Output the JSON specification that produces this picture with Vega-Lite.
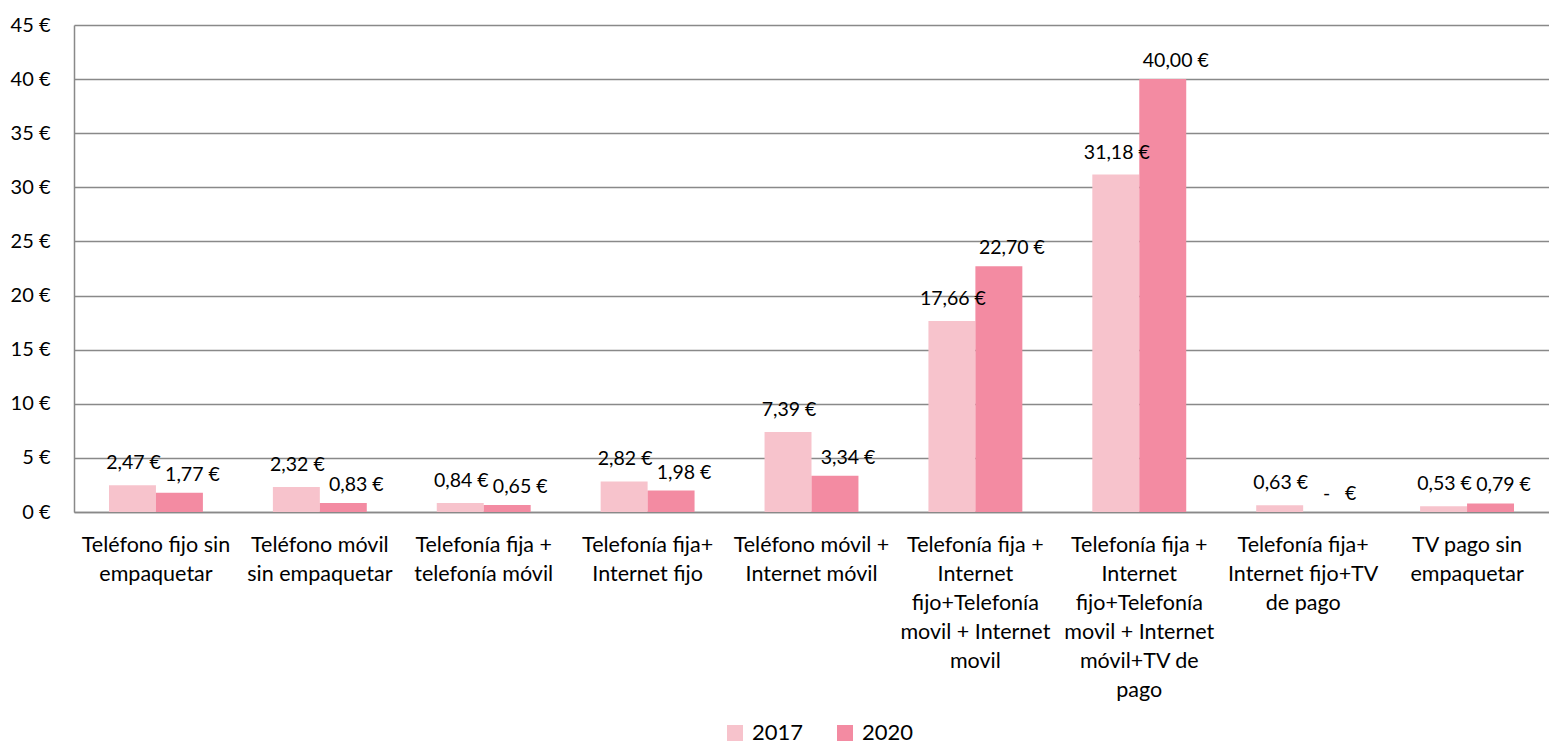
{
  "$schema": "https://vega.github.io/schema/vega-lite/v6.json",
  "width": 1475,
  "height": 487,
  "autosize": {"type": "none"},
  "padding": {"left": 74, "top": 25, "right": 0, "bottom": 233},
  "background": "white",
  "config": {
    "font": "Lato",
    "view": {"stroke": null}
  },
  "data": {
    "values": [
      {"cat": "Teléfono fijo sin|empaquetar", "year": "2017", "value": 2.47, "label": "2,47 €"},
      {"cat": "Teléfono fijo sin|empaquetar", "year": "2020", "value": 1.77, "label": "1,77 €"},
      {"cat": "Teléfono móvil|sin empaquetar", "year": "2017", "value": 2.32, "label": "2,32 €"},
      {"cat": "Teléfono móvil|sin empaquetar", "year": "2020", "value": 0.83, "label": "0,83 €"},
      {"cat": "Telefonía fija +|telefonía móvil", "year": "2017", "value": 0.84, "label": "0,84 €"},
      {"cat": "Telefonía fija +|telefonía móvil", "year": "2020", "value": 0.65, "label": "0,65 €"},
      {"cat": "Telefonía fija+|Internet fijo", "year": "2017", "value": 2.82, "label": "2,82 €"},
      {"cat": "Telefonía fija+|Internet fijo", "year": "2020", "value": 1.98, "label": "1,98 €"},
      {"cat": "Teléfono móvil +|Internet móvil", "year": "2017", "value": 7.39, "label": "7,39 €"},
      {"cat": "Teléfono móvil +|Internet móvil", "year": "2020", "value": 3.34, "label": "3,34 €"},
      {"cat": "Telefonía fija +|Internet|fijo+Telefonía|movil + Internet|movil", "year": "2017", "value": 17.66, "label": "17,66 €"},
      {"cat": "Telefonía fija +|Internet|fijo+Telefonía|movil + Internet|movil", "year": "2020", "value": 22.70, "label": "22,70 €"},
      {"cat": "Telefonía fija +|Internet|fijo+Telefonía|movil + Internet|móvil+TV de|pago", "year": "2017", "value": 31.18, "label": "31,18 €"},
      {"cat": "Telefonía fija +|Internet|fijo+Telefonía|movil + Internet|móvil+TV de|pago", "year": "2020", "value": 40.00, "label": "40,00 €"},
      {"cat": "Telefonía fija+|Internet fijo+TV|de pago", "year": "2017", "value": 0.63, "label": "0,63 €"},
      {"cat": "Telefonía fija+|Internet fijo+TV|de pago", "year": "2020", "value": 0, "label": "-\u00a0\u00a0\u00a0€"},
      {"cat": "TV pago sin|empaquetar", "year": "2017", "value": 0.53, "label": "0,53 €"},
      {"cat": "TV pago sin|empaquetar", "year": "2020", "value": 0.79, "label": "0,79 €"}
    ]
  },
  "encoding": {
    "x": {
      "field": "cat",
      "type": "nominal",
      "sort": null,
      "scale": {"paddingInner": 0.427, "paddingOuter": 0.2135},
      "axis": {
        "title": null,
        "labelAngle": 0,
        "labelExpr": "split(datum.label, '|')",
        "labelFontSize": 21.5,
        "labelLineHeight": 29,
        "labelColor": "#000000",
        "labelPadding": 22,
        "labelLimit": 300,
        "labelBaseline": "top",
        "ticks": false,
        "domainColor": "#898989",
        "domainWidth": 1.5
      }
    },
    "xOffset": {"field": "year", "type": "nominal", "scale": {"domain": ["2017", "2020"], "paddingInner": 0, "paddingOuter": 0}},
    "y": {
      "field": "value",
      "type": "quantitative",
      "scale": {"domain": [0, 45], "nice": false},
      "axis": {
        "title": null,
        "values": [0, 5, 10, 15, 20, 25, 30, 35, 40, 45],
        "labelExpr": "datum.value + ' €'",
        "labelFontSize": 20,
        "labelColor": "#000000",
        "labelPadding": 24,
        "ticks": false,
        "grid": true,
        "gridColor": "#898989",
        "gridWidth": 1.5,
        "domainColor": "#898989",
        "domainWidth": 1.5
      }
    }
  },
  "layer": [
    {
      "mark": {"type": "bar"},
      "encoding": {
        "color": {
          "field": "year",
          "type": "nominal",
          "scale": {"domain": ["2017", "2020"], "range": ["#F7C3CC", "#F38BA2"]},
          "legend": {
            "title": null,
            "orient": "none",
            "direction": "horizontal",
            "legendX": 650,
            "legendY": 697,
            "symbolType": "square",
            "symbolSize": 256,
            "symbolStrokeWidth": 0,
            "labelFontSize": 22,
            "labelColor": "#000000",
            "columnPadding": 30,
            "labelOffset": 6
          }
        }
      }
    },
    {
      "transform": [{"filter": "datum.year == '2017'"}],
      "mark": {"type": "text", "dy": -22, "dx": 1, "fontSize": 19.5, "color": "#000000", "baseline": "middle"},
      "encoding": {
        "text": {"field": "label"}
      }
    },
    {
      "transform": [{"filter": "datum.year == '2020'"}],
      "mark": {"type": "text", "dy": -18, "dx": 13, "fontSize": 19.5, "color": "#000000", "baseline": "middle"},
      "encoding": {
        "text": {"field": "label"}
      }
    }
  ]
}
